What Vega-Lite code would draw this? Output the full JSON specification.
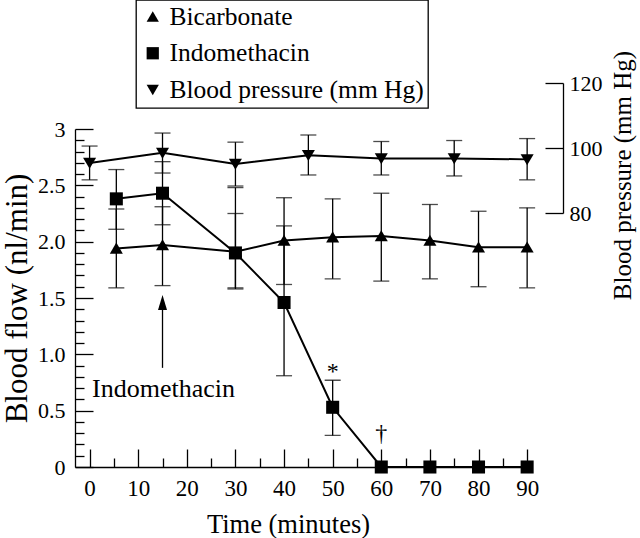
{
  "$schema": "https://vega.github.io/schema/vega-lite/v6.json",
  "width": 488,
  "height": 384,
  "autosize": {"type": "none"},
  "padding": {"left": 75, "top": 83, "right": 77, "bottom": 71},
  "background": "white",
  "config": {
    "font": "Liberation Serif",
    "view": {"stroke": null},
    "axis": {"grid": false, "domainColor": "black", "tickColor": "black", "labelColor": "black", "titleColor": "black", "domainWidth": 1.3, "tickWidth": 1.3, "labelFontSize": 22, "titleFontSize": 25, "titleFontWeight": "normal", "labelFont": "Liberation Serif", "titleFont": "Liberation Serif", "labelOverlap": false, "labelFlush": false},
    "legend": {"strokeWidth": 1.3}
  },
  "datasets": {
    "obs": [
      {"series": "Bicarbonate", "t": 5.5, "v": 1.94, "lo": 1.59, "hi": 2.29},
      {"series": "Bicarbonate", "t": 15, "v": 1.97, "lo": 1.61, "hi": 2.31},
      {"series": "Bicarbonate", "t": 30, "v": 1.91, "lo": 1.59, "hi": 2.25},
      {"series": "Bicarbonate", "t": 40, "v": 2.01, "lo": 1.62, "hi": 2.39},
      {"series": "Bicarbonate", "t": 50, "v": 2.04, "lo": 1.67, "hi": 2.38},
      {"series": "Bicarbonate", "t": 60, "v": 2.05, "lo": 1.65, "hi": 2.43},
      {"series": "Bicarbonate", "t": 70, "v": 2.01, "lo": 1.67, "hi": 2.33},
      {"series": "Bicarbonate", "t": 80, "v": 1.95, "lo": 1.60, "hi": 2.27},
      {"series": "Bicarbonate", "t": 90, "v": 1.95, "lo": 1.59, "hi": 2.30},
      {"series": "Indomethacin", "t": 5.5, "v": 2.38, "lo": 2.11, "hi": 2.64},
      {"series": "Indomethacin", "t": 15, "v": 2.43, "lo": 2.15, "hi": 2.71},
      {"series": "Indomethacin", "t": 30, "v": 1.90, "lo": 1.58, "hi": 2.48},
      {"series": "Indomethacin", "t": 40, "v": 1.46, "lo": 0.81, "hi": 2.14},
      {"series": "Indomethacin", "t": 50, "v": 0.53, "lo": 0.28, "hi": 0.77},
      {"series": "Indomethacin", "t": 60, "v": 0, "lo": null, "hi": null},
      {"series": "Indomethacin", "t": 70, "v": 0, "lo": null, "hi": null},
      {"series": "Indomethacin", "t": 80, "v": 0, "lo": null, "hi": null},
      {"series": "Indomethacin", "t": 90, "v": 0, "lo": null, "hi": null},
      {"series": "Blood pressure (mm Hg)", "t": 0, "v": 95.4, "lo": 90.2, "hi": 100.6},
      {"series": "Blood pressure (mm Hg)", "t": 15, "v": 98.5, "lo": 92.3, "hi": 104.6},
      {"series": "Blood pressure (mm Hg)", "t": 30, "v": 95.1, "lo": 88.3, "hi": 101.8},
      {"series": "Blood pressure (mm Hg)", "t": 45, "v": 97.8, "lo": 91.7, "hi": 104.0},
      {"series": "Blood pressure (mm Hg)", "t": 60, "v": 96.8, "lo": 91.7, "hi": 102.0},
      {"series": "Blood pressure (mm Hg)", "t": 75, "v": 96.8, "lo": 91.4, "hi": 102.3},
      {"series": "Blood pressure (mm Hg)", "t": 90, "v": 96.5, "lo": 90.2, "hi": 102.9}
    ],
    "notes": [
      {"kind": "word", "t": 15.2, "v": 0.62, "label": "Indomethacin"},
      {"kind": "mark", "t": 50, "v": 0.78, "label": "*"},
      {"kind": "mark", "t": 60, "v": 0.23, "label": "†"}
    ],
    "arrow": [
      {"t": 15, "from": 0.88, "to": 1.46}
    ]
  },
  "layer": [
    {
      "data": {"name": "obs"},
      "transform": [{"filter": "datum.series != 'Blood pressure (mm Hg)'"}],
      "layer": [
        {
          "mark": {"type": "rule", "color": "black", "strokeWidth": 1.3},
          "encoding": {
            "x": {"field": "t", "type": "quantitative", "scale": {"domain": [-3, 91], "range": [0, 457], "nice": false, "zero": false},
              "axis": {"orient": "bottom", "values": [0,10,20,30,40,50,60,70,80,90], "tickSize": 18, "offset": -18, "domain": false, "labelPadding": 10, "labelBaseline": "top", "labelFontSize": 23, "title": "Time (minutes)", "titleFontSize": 26.5, "titleX": 213, "titleY": 83, "titleBaseline": "alphabetic"}},
            "y": {"field": "lo", "type": "quantitative", "scale": {"domain": [0, 3], "range": [384, 46], "nice": false, "zero": false},
              "axis": {"orient": "left", "values": [0,0.5,1,1.5,2,2.5,3], "tickSize": 18, "offset": -18, "domain": false, "labelPadding": 10, "labelExpr": "(datum.value == 0 || datum.value == 3) ? format(datum.value, 'd') : format(datum.value, '.1f')", "title": "Blood flow (nl/min)", "titleFontSize": 31, "titleX": -76, "titleBaseline": "middle"}},
            "y2": {"field": "hi"}
          }
        },
        {
          "mark": {"type": "tick", "orient": "horizontal", "color": "black", "size": 16, "thickness": 1.3},
          "encoding": {
            "x": {"field": "t", "type": "quantitative", "scale": {"domain": [-3, 91], "range": [0, 457], "nice": false, "zero": false},
              "axis": {"orient": "bottom", "values": [5,15,25,35,45,55,65,75,85], "tickSize": 9, "offset": -9, "domain": false, "labels": false, "title": null}},
            "y": {"field": "lo", "type": "quantitative", "scale": {"domain": [0, 3], "range": [384, 46], "nice": false, "zero": false},
              "axis": {"orient": "left", "values": [0.1,0.2,0.3,0.4,0.6,0.7,0.8,0.9,1.1,1.2,1.3,1.4,1.6,1.7,1.8,1.9,2.1,2.2,2.3,2.4,2.6,2.7,2.8,2.9], "tickSize": 9, "offset": -9, "domain": false, "labels": false, "title": null}}
          }
        },
        {
          "mark": {"type": "tick", "orient": "horizontal", "color": "black", "size": 16, "thickness": 1.3},
          "encoding": {
            "x": {"field": "t", "type": "quantitative", "scale": {"domain": [-3, 91], "range": [0, 457], "nice": false, "zero": false},
              "axis": {"orient": "bottom", "ticks": false, "labels": false, "domain": true, "title": null}},
            "y": {"field": "hi", "type": "quantitative", "scale": {"domain": [0, 3], "range": [384, 46], "nice": false, "zero": false},
              "axis": {"orient": "left", "ticks": false, "labels": false, "domain": true, "title": null}}
          }
        },
        {
          "mark": {"type": "line", "color": "black", "strokeWidth": 2},
          "encoding": {
            "x": {"field": "t", "type": "quantitative", "scale": {"domain": [-3, 91], "range": [0, 457], "nice": false, "zero": false}, "axis": null},
            "y": {"field": "v", "type": "quantitative", "scale": {"domain": [0, 3], "range": [384, 46], "nice": false, "zero": false}, "axis": null},
            "detail": {"field": "series"}
          }
        },
        {
          "mark": {"type": "point", "filled": true, "color": "black", "opacity": 1, "size": 170},
          "encoding": {
            "x": {"field": "t", "type": "quantitative", "scale": {"domain": [-3, 91], "range": [0, 457], "nice": false, "zero": false}, "axis": null},
            "y": {"field": "v", "type": "quantitative", "scale": {"domain": [0, 3], "range": [384, 46], "nice": false, "zero": false}, "axis": null},
            "shape": {"field": "series", "type": "nominal", "scale": {"domain": ["Bicarbonate", "Indomethacin", "Blood pressure (mm Hg)"], "range": ["M0,-0.9L1,0.8L-1,0.8Z", "square", "M0,0.9L1,-0.8L-1,-0.8Z"]},
              "legend": {"orient": "none", "legendX": 61, "legendY": -83, "title": null, "strokeColor": "black", "fillColor": "white", "padding": 4, "labelFontSize": 25.5, "labelFont": "Liberation Serif", "labelColor": "black", "labelLimit": 0, "labelOffset": 4, "symbolSize": 150, "symbolFillColor": "black", "symbolStrokeColor": "black", "symbolStrokeWidth": 0, "rowPadding": 9.5}}
          }
        },
        {
          "data": {"name": "notes"},
          "transform": [{"filter": "datum.kind == 'word'"}],
          "mark": {"type": "text", "fontSize": 26, "align": "center", "baseline": "alphabetic", "color": "black"},
          "encoding": {
            "x": {"field": "t", "type": "quantitative", "scale": {"domain": [-3, 91], "range": [0, 457], "nice": false, "zero": false}, "axis": null},
            "y": {"field": "v", "type": "quantitative", "scale": {"domain": [0, 3], "range": [384, 46], "nice": false, "zero": false}, "axis": null},
            "text": {"field": "label"}
          }
        },
        {
          "data": {"name": "notes"},
          "transform": [{"filter": "datum.kind == 'mark'"}],
          "mark": {"type": "text", "fontSize": 24, "align": "center", "baseline": "alphabetic", "color": "black"},
          "encoding": {
            "x": {"field": "t", "type": "quantitative", "scale": {"domain": [-3, 91], "range": [0, 457], "nice": false, "zero": false}, "axis": null},
            "y": {"field": "v", "type": "quantitative", "scale": {"domain": [0, 3], "range": [384, 46], "nice": false, "zero": false}, "axis": null},
            "text": {"field": "label"}
          }
        },
        {
          "data": {"name": "arrow"},
          "mark": {"type": "rule", "color": "black", "strokeWidth": 1.3},
          "encoding": {
            "x": {"field": "t", "type": "quantitative", "scale": {"domain": [-3, 91], "range": [0, 457], "nice": false, "zero": false}, "axis": null},
            "y": {"field": "from", "type": "quantitative", "scale": {"domain": [0, 3], "range": [384, 46], "nice": false, "zero": false}, "axis": null},
            "y2": {"field": "to"}
          }
        },
        {
          "data": {"name": "arrow"},
          "mark": {"type": "point", "filled": true, "color": "black", "opacity": 1, "size": 225, "shape": "M0,-1L0.6,1L-0.6,1Z"},
          "encoding": {
            "x": {"field": "t", "type": "quantitative", "scale": {"domain": [-3, 91], "range": [0, 457], "nice": false, "zero": false}, "axis": null},
            "y": {"field": "to", "type": "quantitative", "scale": {"domain": [0, 3], "range": [384, 46], "nice": false, "zero": false}, "axis": null}
          }
        }
      ],
      "resolve": {"axis": {"x": "independent", "y": "independent"}}
    },
    {
      "data": {"name": "obs"},
      "transform": [{"filter": "datum.series == 'Blood pressure (mm Hg)'"}],
      "encoding": {
        "x": {"field": "t", "type": "quantitative", "scale": {"domain": [-3, 91], "range": [0, 457], "nice": false, "zero": false}, "axis": null}
      },
      "layer": [
        {
          "mark": {"type": "rule", "color": "black", "strokeWidth": 1.3},
          "encoding": {
            "y": {"field": "lo", "type": "quantitative", "scale": {"domain": [80, 120], "range": [130, 0], "nice": false, "zero": false},
              "axis": {"orient": "right", "values": [80, 100, 120], "tickSize": 18, "offset": -18, "domain": false, "labelPadding": 6, "title": "Blood pressure (mm Hg)", "titleAngle": 270, "titleX": 77, "titleY": 92, "titleBaseline": "middle"}},
            "y2": {"field": "hi"}
          }
        },
        {
          "mark": {"type": "tick", "orient": "horizontal", "color": "black", "size": 16, "thickness": 1.3},
          "encoding": {
            "y": {"field": "lo", "type": "quantitative", "scale": {"domain": [80, 120], "range": [130, 0], "nice": false, "zero": false},
              "axis": {"orient": "right", "ticks": false, "labels": false, "domain": true, "title": null}}
          }
        },
        {
          "mark": {"type": "tick", "orient": "horizontal", "color": "black", "size": 16, "thickness": 1.3},
          "encoding": {"y": {"field": "hi", "type": "quantitative", "scale": {"domain": [80, 120], "range": [130, 0], "nice": false, "zero": false}, "axis": null}}
        },
        {
          "mark": {"type": "line", "color": "black", "strokeWidth": 2},
          "encoding": {"y": {"field": "v", "type": "quantitative", "scale": {"domain": [80, 120], "range": [130, 0], "nice": false, "zero": false}, "axis": null}}
        },
        {
          "mark": {"type": "point", "filled": true, "color": "black", "opacity": 1, "size": 170},
          "encoding": {
            "y": {"field": "v", "type": "quantitative", "scale": {"domain": [80, 120], "range": [130, 0], "nice": false, "zero": false}, "axis": null},
            "shape": {"field": "series", "type": "nominal", "scale": {"domain": ["Bicarbonate", "Indomethacin", "Blood pressure (mm Hg)"], "range": ["M0,-0.9L1,0.8L-1,0.8Z", "square", "M0,0.9L1,-0.8L-1,-0.8Z"]}}
          }
        }
      ],
      "resolve": {"axis": {"y": "independent"}}
    }
  ],
  "resolve": {"scale": {"y": "independent"}, "axis": {"y": "independent", "x": "independent"}}
}
